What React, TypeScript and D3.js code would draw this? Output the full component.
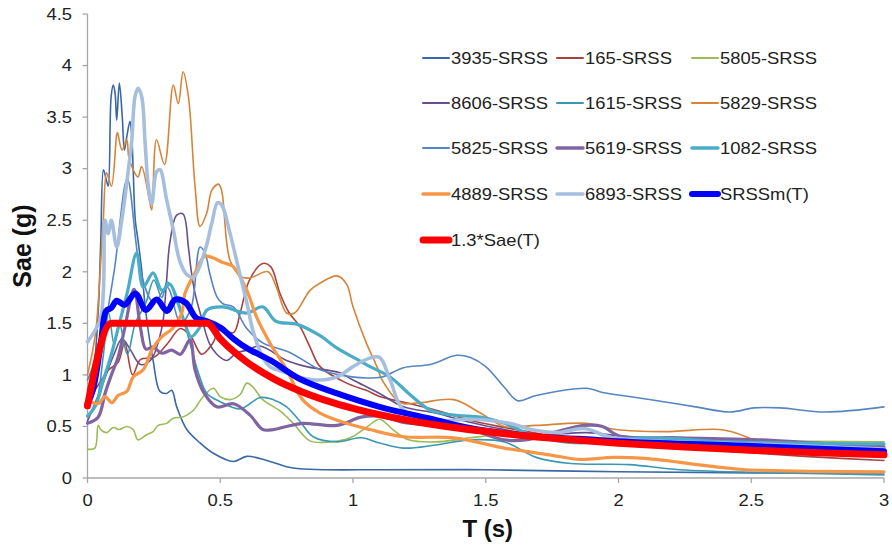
import React from 'react';
import * as d3 from 'd3';

type Pt = [number, number];

const xTicks = [0, 0.5, 1, 1.5, 2, 2.5, 3];
const xTickLabels = ['0', '0.5', '1', '1.5', '2', '2.5', '3'];
const yTicks = [0, 0.5, 1, 1.5, 2, 2.5, 3, 3.5, 4, 4.5];
const yTickLabels = ['0', '0.5', '1', '1.5', '2', '2.5', '3', '3.5', '4', '4.5'];
const xTitle = 'T (s)';
const yTitle = 'Sae (g)';

const seriesNames = [
  '3935-SRSS', '165-SRSS', '5805-SRSS',
  '8606-SRSS', '1615-SRSS', '5829-SRSS',
  '5825-SRSS', '5619-SRSS', '1082-SRSS',
  '4889-SRSS', '6893-SRSS', 'SRSSm(T)',
  '1.3*Sae(T)',
];

const rec3935: Pt[] = [[0,0.85],[0.02,1.0],[0.04,1.6],[0.05,2.3],[0.06,2.99],[0.07,2.9],[0.078,2.83],[0.089,3.7],[0.097,3.81],[0.104,3.73],[0.11,3.47],[0.12,3.83],[0.131,3.5],[0.139,3.18],[0.148,3.31],[0.16,3.46],[0.166,3.35],[0.172,2.99],[0.18,2.5],[0.19,2.31],[0.204,2.02],[0.22,1.6],[0.247,1.14],[0.273,0.84],[0.298,0.82],[0.317,0.85],[0.336,0.69],[0.374,0.47],[0.424,0.34],[0.474,0.24],[0.549,0.16],[0.6,0.21],[0.675,0.17],[0.75,0.11],[0.8,0.09],[0.9,0.08],[1.1,0.08],[1.5,0.08],[2.0,0.06],[2.5,0.05],[3.0,0.05]];

const rec165: Pt[] = [[0,0.75],[0.04,0.9],[0.08,1.05],[0.115,1.12],[0.14,1.31],[0.17,1.0],[0.2,1.15],[0.25,1.17],[0.3,1.3],[0.35,1.45],[0.39,1.37],[0.43,1.2],[0.47,1.3],[0.5,1.44],[0.55,1.41],[0.575,1.6],[0.61,1.92],[0.66,2.08],[0.69,2.05],[0.725,1.79],[0.76,1.6],[0.8,1.47],[0.838,1.27],[0.876,1.08],[0.976,0.92],[1.05,0.85],[1.1,0.79],[1.2,0.73],[1.31,0.66],[1.44,0.56],[1.57,0.49],[1.7,0.43],[1.855,0.37],[2.1,0.32],[2.36,0.27],[2.7,0.21],[3.0,0.17]];

const rec5805: Pt[] = [[0,0.28],[0.028,0.29],[0.04,0.51],[0.05,0.47],[0.072,0.44],[0.097,0.49],[0.12,0.47],[0.148,0.5],[0.172,0.47],[0.19,0.37],[0.223,0.42],[0.247,0.45],[0.266,0.51],[0.298,0.53],[0.323,0.58],[0.355,0.59],[0.374,0.61],[0.4,0.66],[0.436,0.79],[0.474,0.87],[0.5,0.79],[0.537,0.76],[0.575,0.81],[0.6,0.92],[0.624,0.88],[0.66,0.76],[0.725,0.65],[0.775,0.53],[0.838,0.36],[0.913,0.35],[0.99,0.39],[1.05,0.49],[1.1,0.57],[1.15,0.47],[1.21,0.37],[1.31,0.35],[1.44,0.39],[1.57,0.42],[1.8,0.4],[2.0,0.38],[2.5,0.36],[3.0,0.35]];

const rec8606: Pt[] = [[0,0.55],[0.04,0.8],[0.07,1.0],[0.1,1.2],[0.13,1.35],[0.16,1.25],[0.2,1.1],[0.24,1.15],[0.27,1.35],[0.285,1.53],[0.298,1.92],[0.31,2.28],[0.336,2.55],[0.36,2.56],[0.38,2.24],[0.39,2.02],[0.405,1.79],[0.43,1.55],[0.46,1.3],[0.487,1.2],[0.524,1.14],[0.56,1.21],[0.6,1.24],[0.65,1.28],[0.75,1.14],[0.825,1.08],[0.95,1.02],[1.0,0.95],[1.1,0.82],[1.19,0.69],[1.31,0.63],[1.44,0.54],[1.57,0.47],[1.69,0.42],[1.88,0.44],[2.04,0.4],[2.5,0.36],[3.0,0.31]];

const rec1615: Pt[] = [[0,0.6],[0.03,0.7],[0.06,1.2],[0.08,1.6],[0.1,1.3],[0.12,1.5],[0.15,1.2],[0.18,1.5],[0.22,1.7],[0.25,1.92],[0.28,1.75],[0.3,1.9],[0.33,1.8],[0.36,1.55],[0.39,1.27],[0.42,1.0],[0.45,0.82],[0.5,0.74],[0.575,0.67],[0.65,0.78],[0.7,0.76],[0.75,0.69],[0.8,0.55],[0.85,0.4],[0.94,0.35],[1.03,0.39],[1.1,0.34],[1.19,0.29],[1.31,0.32],[1.44,0.37],[1.57,0.35],[1.69,0.2],[1.82,0.14],[2.04,0.13],[2.23,0.08],[2.6,0.05],[3.0,0.03]];

const rec5829: Pt[] = [[0,1.0],[0.03,1.4],[0.05,2.1],[0.06,2.53],[0.072,2.96],[0.09,2.83],[0.11,3.33],[0.113,3.35],[0.13,3.18],[0.148,3.28],[0.155,3.12],[0.172,2.99],[0.19,2.92],[0.204,3.02],[0.235,2.67],[0.242,2.6],[0.26,3.28],[0.29,3.04],[0.323,3.81],[0.342,3.63],[0.36,3.94],[0.38,3.7],[0.405,2.83],[0.424,2.44],[0.449,2.57],[0.468,2.79],[0.493,2.85],[0.505,2.79],[0.537,2.11],[0.58,1.95],[0.612,1.94],[0.68,2.0],[0.71,1.86],[0.75,1.6],[0.78,1.6],[0.838,1.82],[0.876,1.89],[0.94,1.96],[0.976,1.88],[1.0,1.66],[1.05,1.31],[1.09,1.08],[1.11,0.95],[1.18,0.73],[1.25,0.73],[1.38,0.76],[1.48,0.63],[1.57,0.5],[1.69,0.51],[1.88,0.53],[1.99,0.47],[2.17,0.45],[2.38,0.47],[2.45,0.43],[2.51,0.37],[2.61,0.32],[2.8,0.3],[3.0,0.28]];

const rec5825: Pt[] = [[0,0.95],[0.05,1.3],[0.1,2.0],[0.15,2.9],[0.2,2.0],[0.25,1.7],[0.3,1.85],[0.35,1.5],[0.39,1.65],[0.424,2.24],[0.443,2.18],[0.46,1.99],[0.487,1.76],[0.51,1.69],[0.549,1.66],[0.6,1.45],[0.66,1.31],[0.7,1.27],[0.76,1.22],[0.876,1.05],[0.95,1.0],[1.05,0.97],[1.11,0.98],[1.19,1.07],[1.29,1.1],[1.39,1.19],[1.44,1.17],[1.5,1.08],[1.57,0.88],[1.62,0.75],[1.69,0.8],[1.88,0.87],[1.94,0.83],[2.04,0.79],[2.17,0.74],[2.29,0.69],[2.42,0.64],[2.51,0.68],[2.61,0.68],[2.78,0.64],[3.0,0.69]];

const rec5619: Pt[] = [[0,0.53],[0.04,0.59],[0.066,0.82],[0.09,1.0],[0.115,1.17],[0.14,1.45],[0.175,1.83],[0.2,1.45],[0.22,1.25],[0.247,1.27],[0.28,1.21],[0.317,1.24],[0.35,1.2],[0.386,1.34],[0.405,1.05],[0.44,0.82],[0.487,0.69],[0.55,0.72],[0.612,0.61],[0.66,0.47],[0.7,0.47],[0.75,0.5],[0.81,0.53],[0.94,0.51],[1.03,0.59],[1.1,0.6],[1.19,0.54],[1.31,0.51],[1.44,0.47],[1.57,0.37],[1.65,0.37],[1.77,0.45],[1.87,0.51],[1.94,0.5],[2.0,0.41],[2.23,0.39],[2.54,0.37],[2.73,0.34],[3.0,0.3]];

const rec1082: Pt[] = [[0,0.6],[0.03,0.7],[0.06,0.95],[0.09,1.2],[0.12,1.5],[0.15,1.8],[0.185,2.18],[0.21,1.85],[0.247,1.99],[0.28,1.82],[0.31,1.88],[0.34,1.7],[0.367,1.5],[0.39,1.37],[0.42,1.45],[0.45,1.63],[0.51,1.66],[0.6,1.6],[0.66,1.66],[0.71,1.52],[0.79,1.49],[0.876,1.38],[0.94,1.26],[1.03,1.13],[1.064,1.08],[1.14,0.98],[1.21,0.82],[1.29,0.66],[1.38,0.61],[1.48,0.59],[1.57,0.53],[1.67,0.42],[1.77,0.36],[1.855,0.34],[2.1,0.39],[2.42,0.35],[3.0,0.33]];

const rec4889: Pt[] = [[0,0.76],[0.04,0.72],[0.066,0.79],[0.092,0.73],[0.115,0.8],[0.148,0.84],[0.172,0.98],[0.21,1.05],[0.242,1.24],[0.28,1.37],[0.32,1.45],[0.355,1.6],[0.367,1.79],[0.405,1.99],[0.443,2.15],[0.51,2.09],[0.549,2.05],[0.6,1.82],[0.637,1.56],[0.687,1.31],[0.75,1.05],[0.81,0.76],[0.876,0.63],[0.976,0.53],[1.064,0.47],[1.19,0.4],[1.38,0.39],[1.57,0.29],[1.75,0.22],[1.855,0.18],[1.98,0.2],[2.1,0.19],[2.36,0.11],[2.48,0.08],[3.0,0.06]];

const rec6893: Pt[] = [[0,1.32],[0.047,1.53],[0.06,1.82],[0.066,2.5],[0.078,2.37],[0.09,2.5],[0.11,2.24],[0.129,2.5],[0.154,2.99],[0.166,3.25],[0.179,3.7],[0.19,3.78],[0.204,3.7],[0.217,3.25],[0.229,2.83],[0.242,2.66],[0.26,2.97],[0.273,2.99],[0.298,2.7],[0.323,2.41],[0.348,2.1],[0.375,1.97],[0.4,1.95],[0.443,2.21],[0.468,2.47],[0.49,2.67],[0.505,2.65],[0.537,2.37],[0.567,2.05],[0.6,1.7],[0.624,1.42],[0.66,1.17],[0.687,1.08],[0.75,1.02],[0.81,0.97],[0.876,0.95],[0.94,0.98],[1.0,1.08],[1.06,1.16],[1.1,1.17],[1.14,0.95],[1.19,0.66],[1.31,0.56],[1.45,0.57],[1.59,0.53],[1.67,0.47],[1.77,0.44],[1.87,0.48],[1.98,0.39],[2.5,0.33],[3.0,0.28]];

const meanSRSS: Pt[] = [[0,0.72],[0.02,0.85],[0.05,1.3],[0.07,1.62],[0.09,1.65],[0.11,1.72],[0.14,1.68],[0.18,1.79],[0.22,1.63],[0.26,1.73],[0.3,1.62],[0.33,1.73],[0.37,1.7],[0.41,1.55],[0.45,1.52],[0.5,1.46],[0.55,1.35],[0.6,1.26],[0.69,1.14],[0.8,0.96],[0.94,0.82],[1.1,0.69],[1.3,0.57],[1.45,0.48],[1.7,0.4],[1.85,0.38],[2.05,0.35],[2.5,0.31],[3.0,0.26]];

const codeSae: Pt[] = [[0,0.7],[0.09,1.5],[0.45,1.5],[0.5,1.35],[0.55,1.227],[0.6,1.125],[0.7,0.964],[0.8,0.844],[0.9,0.75],[1.0,0.675],[1.2,0.5625],[1.4,0.482],[1.6,0.422],[1.8,0.375],[2.0,0.3375],[2.25,0.3],[2.5,0.27],[2.75,0.245],[3.0,0.225]];

const seriesData: Pt[][] = [rec3935, rec165, rec5805, rec8606, rec1615, rec5829, rec5825, rec5619, rec1082, rec4889, rec6893, meanSRSS, codeSae];

// styles
const seriesColors = ['#3A68A6', '#A8423F', '#9BBB59', '#684F8C', '#3A98B2', '#D7843A', '#5586C2', '#8064A2', '#4BACC6', '#F79646', '#A7BFDE', '#0000FF', '#FF0000'];
const seriesWidths = [1.6, 1.6, 1.6, 1.6, 1.6, 1.6, 1.6, 3.2, 3.2, 3.2, 3.6, 6, 7];
const legendWidths = [2, 2, 2, 2, 2, 2, 2, 3.5, 3.5, 3.5, 3.5, 6, 7];

const W = 892, H = 548;
const X0 = 87.5, X1 = 884, Y0 = 478, Y1 = 14;
const FONT = 'Arial, "Liberation Sans", sans-serif';
const SX = 1.15;

export default function App() {
  const x = d3.scaleLinear().domain([0, 3]).range([X0, X1]);
  const y = d3.scaleLinear().domain([0, 4.5]).range([Y0, Y1]);
  const smooth = d3.line<Pt>().x(d => x(d[0])).y(d => y(d[1])).curve(d3.curveCatmullRom.alpha(0.5));
  const straight = d3.line<Pt>().x(d => x(d[0])).y(d => y(d[1])).curve(d3.curveMonotoneX);

  const legendCols = [423, 557, 692];
  const legendRows = [58, 103, 148, 194, 240];
  const axisColor = '#A6A6A6';

  return (
    <svg width={W} height={H} style={{ position: 'absolute', left: 0, top: 0, background: '#fff' }} fontFamily={FONT}>
      <rect width={W} height={H} fill="#fff" />
      {/* axes */}
      <line x1={X0} x2={X0} y1={Y1} y2={Y0} stroke={axisColor} strokeWidth={1.3} />
      <line x1={X0} x2={X1} y1={Y0} y2={Y0} stroke={axisColor} strokeWidth={1.3} />
      {yTicks.map((t, i) => (
        <g key={'y' + i}>
          <line x1={X0 - 5} x2={X0} y1={y(t)} y2={y(t)} stroke={axisColor} strokeWidth={1.3} />
          <text transform={`translate(72,${y(t) + 5.8}) scale(${SX},1)`} textAnchor="end" fontSize={16} fill="#222">{yTickLabels[i]}</text>
        </g>
      ))}
      {xTicks.map((t, i) => (
        <g key={'x' + i}>
          <line x1={x(t)} x2={x(t)} y1={Y0} y2={Y0 + 5} stroke={axisColor} strokeWidth={1.3} />
          <text transform={`translate(${x(t)},506) scale(${SX},1)`} textAnchor="middle" fontSize={16} fill="#222">{xTickLabels[i]}</text>
        </g>
      ))}
      <text x={x(1.5) + 2} y={537} textAnchor="middle" fontSize={24} fontWeight="bold" fill="#111">{xTitle}</text>
      <text transform={`translate(31,${(Y0 + Y1) / 2}) rotate(-90)`} textAnchor="middle" fontSize={25} fontWeight="bold" fill="#111">{yTitle}</text>

      {/* series */}
      {seriesData.map((d, i) => (
        <path key={'s' + i} d={(i === seriesData.length - 1 ? straight : smooth)(d) || ''} fill="none"
          stroke={seriesColors[i]} strokeWidth={seriesWidths[i]} strokeLinejoin="round" strokeLinecap="round" />
      ))}

      {/* legend */}
      {seriesNames.map((name, i) => {
        const cx = legendCols[i % 3];
        const cy = legendRows[Math.floor(i / 3)];
        return (
          <g key={'l' + i}>
            <line x1={cx} x2={cx + 26} y1={cy} y2={cy} stroke={seriesColors[i]} strokeWidth={legendWidths[i]} strokeLinecap="round" />
            <text transform={`translate(${cx + 28},${cy + 5.8}) scale(${SX},1)`} fontSize={16} fill="#222">{name}</text>
          </g>
        );
      })}
    </svg>
  );
}
